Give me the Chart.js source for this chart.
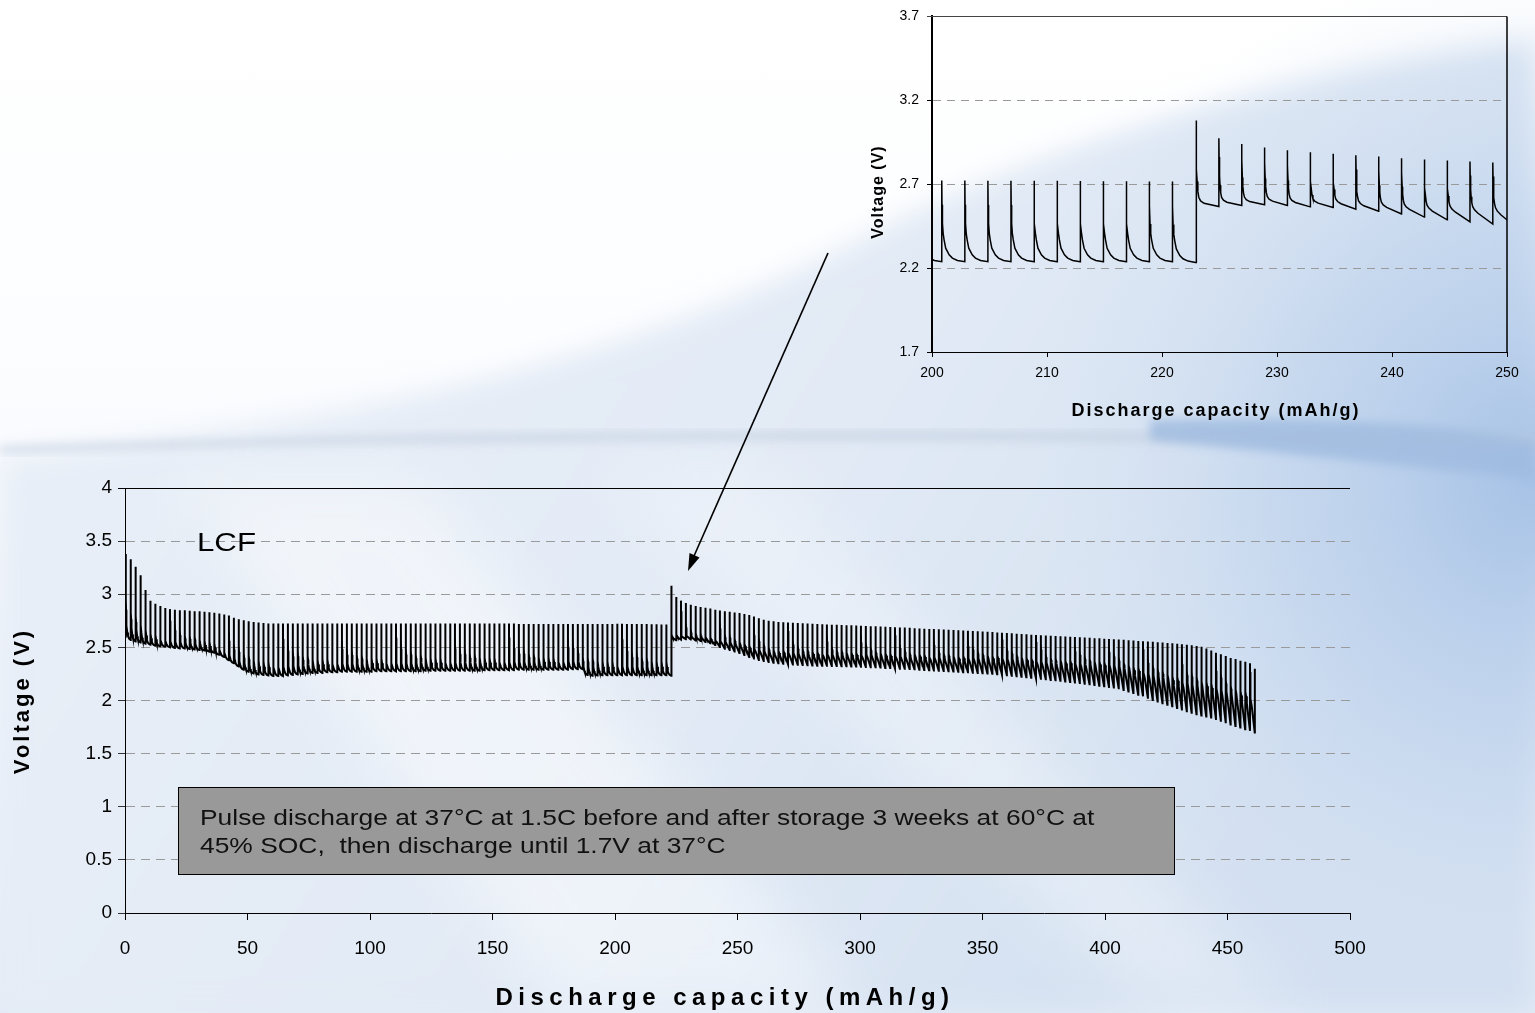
<!DOCTYPE html>
<html>
<head>
<meta charset="utf-8">
<script src="https://cdn.jsdelivr.net/npm/chart.js@4.4.1/dist/chart.umd.min.js"></script>
<style>
html,body{margin:0;padding:0;width:1535px;height:1013px;overflow:hidden;background:#fff;font-family:"Liberation Sans",Arial,sans-serif;}
#bg{position:absolute;left:0;top:0;}
#main{position:absolute;left:0;top:0;}
#inset{position:absolute;left:840px;top:0;}
.t{position:absolute;color:#000;white-space:nowrap;}
#arrow{position:absolute;left:0;top:0;pointer-events:none;}
</style>
</head>
<body>
<svg id="bg" width="1535" height="1013" xmlns="http://www.w3.org/2000/svg">
  <defs>
    <linearGradient id="g0" x1="0" y1="0" x2="0" y2="1">
      <stop offset="0" stop-color="#ffffff"/>
      <stop offset="0.35" stop-color="#fcfdff"/>
      <stop offset="1" stop-color="#e3ebf6"/>
    </linearGradient>
    <linearGradient id="g1" x1="0" y1="0" x2="1" y2="0.4">
      <stop offset="0" stop-color="#eaf0f8"/>
      <stop offset="0.6" stop-color="#e2eaf5"/>
      <stop offset="1" stop-color="#d3e0f1"/>
    </linearGradient>
    <radialGradient id="r1" cx="1535" cy="480" r="520" gradientUnits="userSpaceOnUse">
      <stop offset="0" stop-color="#a6c2e6"/>
      <stop offset="0.5" stop-color="#bcd1ec" stop-opacity="0.6"/>
      <stop offset="1" stop-color="#d6e3f3" stop-opacity="0"/>
    </radialGradient>
    <filter id="b1" x="-10%" y="-10%" width="120%" height="120%"><feGaussianBlur stdDeviation="14"/></filter>
    <filter id="b2" x="-10%" y="-10%" width="120%" height="120%"><feGaussianBlur stdDeviation="5"/></filter>
    <filter id="b3" x="-20%" y="-20%" width="140%" height="140%"><feGaussianBlur stdDeviation="30"/></filter>
  </defs>
  <rect width="1535" height="1013" fill="url(#g0)"/>
  <path d="M0,458 C 300,430 620,370 870,235 C 1050,140 1300,70 1535,40 L1535,1013 L0,1013 Z" fill="url(#g1)" filter="url(#b1)"/>
  <rect x="0" y="0" width="1535" height="1013" fill="url(#r1)"/>
  <path d="M0,446 C 400,430 900,426 1535,436 L1535,446 C 900,438 400,440 0,454 Z" fill="#c3cfdf" opacity="0.6" filter="url(#b2)"/>
  <path d="M1150,420 C 1300,415 1450,425 1535,440 L1535,480 C 1450,470 1300,455 1150,440 Z" fill="#9fbbe0" opacity="0.8" filter="url(#b2)"/>
  <path d="M180,480 L420,480 L860,1013 L560,1013 Z" fill="#ffffff" opacity="0.45" filter="url(#b3)"/>
  <path d="M600,470 L760,470 L1300,1013 L1150,1013 Z" fill="#ffffff" opacity="0.3" filter="url(#b3)"/>
</svg>

<canvas id="main" width="1535" height="1013"></canvas>
<canvas id="inset" width="695" height="440"></canvas>

<svg id="arrow" width="1535" height="1013" xmlns="http://www.w3.org/2000/svg">
  <line x1="828" y1="253" x2="694" y2="556" stroke="#000" stroke-width="1.6"/>
  <polygon points="688,571 699.5,557.5 689.5,553" fill="#000"/>
</svg>

<div class="t" style="left:197px;top:527px;font-size:26px;transform-origin:0 0;transform:scaleX(1.2);">LCF</div>
<div class="t" style="left:178px;top:787px;width:997px;height:88px;box-sizing:border-box;background:#999999;border:1.5px solid #000;"></div>
<div class="t" style="left:200px;top:804px;font-size:22px;line-height:28px;color:#111;transform-origin:0 0;transform:scaleX(1.2);">Pulse discharge at 37°C at 1.5C before and after storage 3 weeks at 60°C at<br>45% SOC,&nbsp; then discharge until 1.7V at 37°C</div>

<div class="t" style="left:725px;top:983px;transform:translateX(-50%);font-size:24px;font-weight:bold;letter-spacing:5.5px;">Discharge capacity (mAh/g)</div>
<div class="t" style="left:22px;top:701px;transform:translate(-50%,-50%) rotate(-90deg);font-size:22px;font-weight:bold;letter-spacing:3px;">Voltage (V)</div>
<div class="t" style="left:1216px;top:410px;transform:translate(-50%,-50%);font-size:18px;font-weight:bold;letter-spacing:2px;">Discharge capacity (mAh/g)</div>
<div class="t" style="left:878px;top:192px;transform:translate(-50%,-50%) rotate(-90deg);font-size:16px;font-weight:bold;letter-spacing:1px;">Voltage (V)</div>

<script>
// ---------------- DATA ----------------
// Main axis ticks
const MAIN_X_TICKS = [0, 50, 100, 150, 200, 250, 300, 350, 400, 450, 500];
const MAIN_Y_TICKS = [0, 0.5, 1, 1.5, 2, 2.5, 3, 3.5, 4];
const INSET_X_TICKS = [200, 210, 220, 230, 240, 250];
const INSET_Y_TICKS = [1.7, 2.2, 2.7, 3.2, 3.7];

// Start of the record (mAh/g, V)
const START_POINT = [0, 2.60];

// Before storage: pulse spacing and per-pulse peak / end-of-pulse voltage
const R1_FIRST_PULSE = 0.3;     // mAh/g
const R1_PULSE_STEP = 2.0055;   // mAh/g per pulse
const R1_PEAK = [
  3.38, 3.33, 3.26, 3.18, 3.04, 2.94, 2.91, 2.89, 2.87, 2.86,
  2.855, 2.85, 2.85, 2.845, 2.84, 2.84, 2.835, 2.83, 2.825, 2.82,
  2.81, 2.80, 2.78, 2.765, 2.755, 2.745, 2.74, 2.735, 2.73, 2.725,
  2.725, 2.725, 2.725, 2.725, 2.725, 2.725, 2.725, 2.725, 2.725, 2.725,
  2.725, 2.725, 2.725, 2.725, 2.725, 2.725, 2.725, 2.725, 2.725, 2.725,
  2.725, 2.725, 2.725, 2.725, 2.725, 2.725, 2.725, 2.725, 2.725, 2.725,
  2.725, 2.725, 2.725, 2.725, 2.725, 2.725, 2.725, 2.725, 2.725, 2.725,
  2.725, 2.725, 2.725, 2.725, 2.725, 2.725, 2.725, 2.725, 2.725, 2.725,
  2.72, 2.72, 2.72, 2.72, 2.72, 2.72, 2.72, 2.72, 2.72, 2.72,
  2.72, 2.72, 2.72, 2.72, 2.72, 2.72, 2.72, 2.72, 2.72, 2.72,
  2.722, 2.722, 2.721, 2.72, 2.72, 2.72, 2.719, 2.718, 2.717, 2.716, 2.716
];
const R1_TROUGH = [
  2.57, 2.555, 2.545, 2.535, 2.525, 2.515, 2.51, 2.505, 2.50, 2.495,
  2.49, 2.49, 2.485, 2.48, 2.475, 2.47, 2.46, 2.45, 2.43, 2.41,
  2.38, 2.35, 2.32, 2.29, 2.27, 2.255, 2.245, 2.24, 2.235, 2.23,
  2.23, 2.23, 2.235, 2.24, 2.245, 2.25, 2.255, 2.26, 2.26, 2.26,
  2.265, 2.265, 2.265, 2.27, 2.27, 2.27, 2.27, 2.27, 2.27, 2.27,
  2.275, 2.275, 2.275, 2.275, 2.275, 2.275, 2.275, 2.275, 2.275, 2.275,
  2.28, 2.28, 2.28, 2.28, 2.28, 2.28, 2.28, 2.28, 2.28, 2.28,
  2.28, 2.28, 2.285, 2.285, 2.285, 2.285, 2.285, 2.285, 2.285, 2.29,
  2.29, 2.29, 2.29, 2.29, 2.29, 2.29, 2.29, 2.29, 2.29, 2.29,
  2.295, 2.295, 2.295, 2.24, 2.232, 2.235, 2.238, 2.238, 2.238, 2.238,
  2.238, 2.238, 2.238, 2.238, 2.238, 2.238, 2.238, 2.238, 2.238, 2.238, 2.234
];

// After storage: pulse spacing, peak, end-of-pulse voltage, slow in-pulse drop
const R2_FIRST_PULSE = 222.96;
const R2_PULSE_STEP = 1.985;
const R2_PEAK = [
  3.08, 2.974, 2.94, 2.918, 2.902, 2.89, 2.881, 2.873, 2.865, 2.855,
  2.847, 2.841, 2.835, 2.829, 2.823, 2.815, 2.805, 2.79, 2.775, 2.76,
  2.75, 2.745, 2.74, 2.737, 2.735, 2.732, 2.73, 2.727, 2.725, 2.722,
  2.72, 2.718, 2.716, 2.714, 2.712, 2.71, 2.709, 2.708, 2.706, 2.704,
  2.702, 2.70, 2.698, 2.696, 2.694, 2.692, 2.69, 2.688, 2.686, 2.684,
  2.68, 2.678, 2.676, 2.674, 2.672, 2.67, 2.668, 2.666, 2.664, 2.662,
  2.66, 2.657, 2.655, 2.652, 2.65, 2.647, 2.644, 2.641, 2.638, 2.635,
  2.632, 2.629, 2.626, 2.623, 2.62, 2.617, 2.614, 2.612, 2.61, 2.607,
  2.605, 2.602, 2.60, 2.598, 2.595, 2.592, 2.59, 2.587, 2.585, 2.582,
  2.58, 2.577, 2.575, 2.572, 2.568, 2.565, 2.561, 2.558, 2.555, 2.552,
  2.549, 2.546, 2.542, 2.538, 2.534, 2.53, 2.525, 2.52, 2.513, 2.505,
  2.49, 2.47, 2.45, 2.435, 2.42, 2.40, 2.39, 2.375, 2.365, 2.35
];
const R2_TROUGH = [
  2.567, 2.573, 2.577, 2.573, 2.565, 2.561, 2.551, 2.539, 2.523, 2.504,
  2.488, 2.476, 2.462, 2.446, 2.428, 2.41, 2.395, 2.382, 2.372, 2.363,
  2.356, 2.35, 2.345, 2.341, 2.338, 2.336, 2.334, 2.332, 2.33, 2.328,
  2.327, 2.326, 2.325, 2.324, 2.323, 2.322, 2.321, 2.32, 2.318, 2.316,
  2.314, 2.312, 2.31, 2.307, 2.305, 2.302, 2.30, 2.298, 2.296, 2.293,
  2.29, 2.288, 2.285, 2.283, 2.28, 2.278, 2.275, 2.272, 2.27, 2.267,
  2.265, 2.262, 2.26, 2.257, 2.255, 2.251, 2.247, 2.243, 2.238, 2.234,
  2.229, 2.224, 2.219, 2.214, 2.209, 2.204, 2.199, 2.194, 2.19, 2.185,
  2.18, 2.175, 2.17, 2.164, 2.158, 2.152, 2.146, 2.14, 2.134, 2.128,
  2.122, 2.116, 2.10, 2.085, 2.07, 2.055, 2.04, 2.025, 2.005, 1.99,
  1.975, 1.96, 1.945, 1.93, 1.915, 1.90, 1.885, 1.87, 1.86, 1.85,
  1.84, 1.825, 1.81, 1.795, 1.775, 1.76, 1.745, 1.73, 1.715, 1.69
];
const R2_SLOW_DROP = [
  0.03, 0.03, 0.03, 0.04, 0.04, 0.04, 0.05, 0.05, 0.06, 0.07,
  0.08, 0.09, 0.10, 0.11, 0.12, 0.12, 0.12, 0.12, 0.12, 0.12,
  0.12, 0.12, 0.12, 0.13, 0.13, 0.13, 0.13, 0.13, 0.13, 0.13,
  0.13, 0.13, 0.13, 0.13, 0.13, 0.13, 0.13, 0.13, 0.13, 0.13,
  0.14, 0.14, 0.14, 0.14, 0.14, 0.14, 0.14, 0.14, 0.14, 0.14,
  0.15, 0.15, 0.15, 0.15, 0.15, 0.15, 0.15, 0.15, 0.15, 0.15,
  0.16, 0.16, 0.17, 0.17, 0.18, 0.18, 0.18, 0.19, 0.19, 0.19,
  0.20, 0.20, 0.20, 0.20, 0.20, 0.20, 0.20, 0.20, 0.20, 0.20,
  0.21, 0.21, 0.22, 0.22, 0.23, 0.23, 0.24, 0.24, 0.25, 0.25,
  0.26, 0.26, 0.27, 0.27, 0.28, 0.28, 0.29, 0.29, 0.30, 0.30,
  0.31, 0.31, 0.32, 0.32, 0.33, 0.33, 0.34, 0.34, 0.35, 0.35,
  0.36, 0.36, 0.37, 0.37, 0.38, 0.38, 0.39, 0.39, 0.40, 0.40
];
// Rest voltage reached after the 1.7 V cut-off
const FINAL_REST_V = 2.30;

// Relaxation shape inside one pulse: relative position / fraction
const SHAPE1_T = [0, 0.01, 0.03, 0.06, 0.10, 0.17, 0.32, 0.46, 0.68, 1];
const SHAPE1_F = [1, 0.70, 0.47, 0.35, 0.27, 0.167, 0.085, 0.045, 0.016, 0];
const SHAPE2_T = [0, 0.01, 0.03, 0.05, 0.08, 0.12, 0.20, 0.35, 1];
const SHAPE2_F = [1, 0.70, 0.40, 0.25, 0.13, 0.06, 0.02, 0, 0];

// ---------------- build the trace ----------------
function addPulse(pts, x0, step, peak, trough, drop, T, F) {
  for (let i = 0; i < T.length; i++) {
    const t = T[i];
    const v = trough + drop * (1 - t) + (peak - trough - drop) * F[i];
    pts.push({x: x0 + t * step, y: v});
  }
}
function buildTrace() {
  const pts = [{x: START_POINT[0], y: START_POINT[1]}];
  for (let k = 0; k < R1_PEAK.length; k++) {
    const x0 = R1_FIRST_PULSE + k * R1_PULSE_STEP;
    pts.push({x: x0, y: k === 0 ? START_POINT[1] : R1_TROUGH[k - 1]});
    addPulse(pts, x0, R1_PULSE_STEP, R1_PEAK[k], R1_TROUGH[k], 0, SHAPE1_T, SHAPE1_F);
  }
  let xEnd = 0;
  for (let j = 0; j < R2_PEAK.length; j++) {
    const x0 = R2_FIRST_PULSE + j * R2_PULSE_STEP;
    pts.push({x: x0, y: j === 0 ? R1_TROUGH[R1_TROUGH.length - 1] : R2_TROUGH[j - 1]});
    addPulse(pts, x0, R2_PULSE_STEP, R2_PEAK[j], R2_TROUGH[j], R2_SLOW_DROP[j], SHAPE2_T, SHAPE2_F);
    xEnd = x0 + R2_PULSE_STEP;
  }
  pts.push({x: xEnd, y: FINAL_REST_V});
  return pts;
}
const TRACE = buildTrace();

// ---------------- charts ----------------
Chart.defaults.font.family = '"Liberation Sans", Arial, sans-serif';
Chart.defaults.color = '#000';

function framePlugin(opts) {
  return {
    id: 'frame',
    afterDraw(chart) {
      const {ctx, chartArea: a} = chart;
      ctx.save();
      ctx.setLineDash([]);
      if (opts.top) {
        ctx.strokeStyle = opts.topColor; ctx.lineWidth = 1;
        ctx.beginPath(); ctx.moveTo(a.left - opts.tick, Math.round(a.top) + 0.5); ctx.lineTo(a.right, Math.round(a.top) + 0.5); ctx.stroke();
      }
      if (opts.right) {
        ctx.strokeStyle = '#000'; ctx.lineWidth = 1.5;
        ctx.beginPath(); ctx.moveTo(a.right, a.top); ctx.lineTo(a.right, a.bottom); ctx.stroke();
      }
      ctx.restore();
    }
  };
}

function setTicks(list) {
  return function (scale) { scale.ticks = list.map(v => ({value: v})); };
}
const plainLabel = v => String(v);

new Chart(document.getElementById('main'), {
  type: 'scatter',
  data: {datasets: [{data: TRACE, showLine: true, borderColor: '#000', borderWidth: 2, pointRadius: 0, fill: false, tension: 0}]},
  options: {
    responsive: false, animation: false, parsing: false, devicePixelRatio: 1,
    events: [],
    layout: {padding: {left: 0, top: 488, right: 185, bottom: 0}},
    plugins: {legend: {display: false}, tooltip: {enabled: false}},
    scales: {
      x: {
        type: 'linear', min: 0, max: 500,
        afterBuildTicks: setTicks(MAIN_X_TICKS),
        afterFit(s) { s.height = 100; },
        ticks: {font: {size: 19}, color: '#000', padding: 17, maxRotation: 0, autoSkip: false, callback: plainLabel},
        grid: {drawOnChartArea: false, drawTicks: true, tickLength: 7, tickColor: '#000', color: '#000'},
        border: {display: true, color: '#000', width: 1}
      },
      y: {
        type: 'linear', min: 0, max: 4,
        afterBuildTicks: setTicks(MAIN_Y_TICKS),
        afterFit(s) { s.width = 125; },
        ticks: {font: {size: 19}, color: '#000', padding: 6, autoSkip: false, callback: plainLabel},
        grid: {
          color: c => (c.tick && (c.tick.value === 0 || c.tick.value === 4)) ? 'rgba(0,0,0,0)' : '#9a9a9a',
          lineWidth: 1, tickLength: 7, tickColor: '#333', tickBorderDash: []
        },
        border: {display: true, color: '#000', width: 1, dash: [9, 6]}
      }
    }
  },
  plugins: [framePlugin({top: true, topColor: '#000', tick: 7, right: false})]
});

new Chart(document.getElementById('inset'), {
  type: 'scatter',
  data: {datasets: [{data: TRACE, showLine: true, borderColor: '#000', borderWidth: 1.5, pointRadius: 0, fill: false, tension: 0}]},
  options: {
    responsive: false, animation: false, parsing: false, devicePixelRatio: 1,
    events: [],
    layout: {padding: {left: 0, top: 13, right: 28, bottom: 0}},
    plugins: {legend: {display: false}, tooltip: {enabled: false}},
    scales: {
      x: {
        type: 'linear', min: 200, max: 250,
        afterBuildTicks: setTicks(INSET_X_TICKS),
        afterFit(s) { s.height = 88; },
        ticks: {font: {size: 14}, color: '#000', padding: 8, maxRotation: 0, autoSkip: false, callback: plainLabel},
        grid: {drawOnChartArea: false, drawTicks: true, tickLength: 5, tickColor: '#000'},
        border: {display: true, color: '#000', width: 1}
      },
      y: {
        type: 'linear', min: 1.7, max: 3.7,
        afterBuildTicks: setTicks(INSET_Y_TICKS),
        afterFit(s) { s.width = 92; },
        ticks: {font: {size: 14}, color: '#000', padding: 8, autoSkip: false, callback: plainLabel},
        grid: {
          color: c => (c.tick && (c.tick.value === 1.7 || c.tick.value === 3.7)) ? 'rgba(0,0,0,0)' : '#9a9a9a',
          lineWidth: 1, tickLength: 5, tickColor: '#000', tickBorderDash: []
        },
        border: {display: true, color: '#000', width: 2, dash: [8, 6]}
      }
    }
  },
  plugins: [framePlugin({top: true, topColor: '#444', tick: 5, right: true})]
});
</script>
</body>
</html>
